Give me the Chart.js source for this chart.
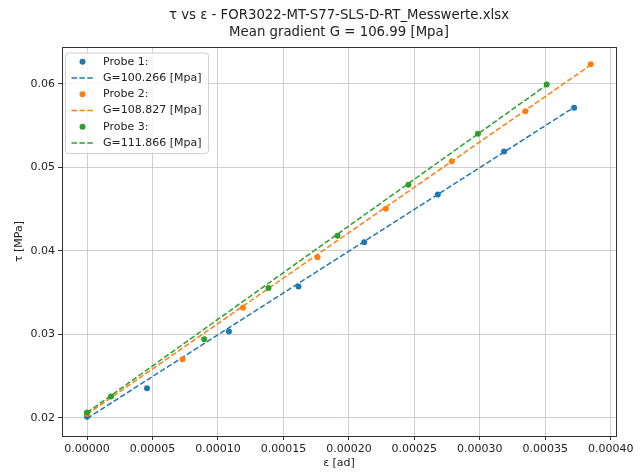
<!DOCTYPE html>
<html>
<head>
<meta charset="utf-8">
<script src="https://cdn.jsdelivr.net/npm/chart.js@4"></script>
<style>
  html, body { margin: 0; background: #fff; }
  #wrap { width: 644px; height: 476px; }
</style>
</head>
<body>
<div id="wrap"><canvas id="chart"></canvas></div>
<script>
"use strict";

// ── Data ─────────────────────────────────────────────────────────────────────
const probeNames   = ["Probe 1:", "Probe 2:", "Probe 3:"];
const gradients    = [100.266, 108.827, 111.866];   // fitted G [MPa]
const intercepts   = [0.0199, 0.0204, 0.0206];      // fitted tau at eps = 0
const meanGradient = 106.99;
const fileName     = "FOR3022-MT-S77-SLS-D-RT_Messwerte.xlsx";

const strain1 = [0, 0.0000458, 0.0001084, 0.0001615, 0.0002117, 0.0002679, 0.0003185, 0.000372];
const stress1 = [0.0201, 0.02353, 0.03032, 0.03573, 0.04101, 0.04673, 0.0519, 0.05714];
const strain2 = [0, 0.000073, 0.0001191, 0.000176, 0.0002282, 0.0002786, 0.0003348, 0.0003847];
const stress2 = [0.02045, 0.02701, 0.03317, 0.03921, 0.04502, 0.05073, 0.05673, 0.06234];
const strain3 = [0, 0.0000183, 0.0000895, 0.0001386, 0.0001913, 0.0002455, 0.0002985, 0.0003511];
const stress3 = [0.02062, 0.02254, 0.02941, 0.03553, 0.04181, 0.0479, 0.05402, 0.05994];

const xTicks = [0, 0.00005, 0.0001, 0.00015, 0.0002, 0.00025, 0.0003, 0.00035, 0.0004];
const yTicks = [0.02, 0.03, 0.04, 0.05, 0.06];

// ── Style ────────────────────────────────────────────────────────────────────
const COLORS = ["#1f77b4", "#ff7f0e", "#2ca02c"];
const FONT   = "'DejaVu Sans', sans-serif";
const TXT    = "#222";
const DASH   = [5.5, 2.4];

const strains  = [strain1, strain2, strain3];
const stresses = [stress1, stress2, stress3];

function pts(xs, ys) {
  return xs.map((x, i) => ({ x, y: ys[i] }));
}

function fitLine(i) {
  const xs = strains[i];
  const x0 = Math.min(...xs), x1 = Math.max(...xs);
  return [x0, x1].map(x => ({ x, y: intercepts[i] + gradients[i] * x }));
}

const datasets = [];
probeNames.forEach((name, i) => {
  datasets.push({
    label: name,
    data: pts(strains[i], stresses[i]),
    showLine: false,
    pointRadius: 3,
    pointBorderWidth: 0,
    pointBackgroundColor: COLORS[i],
    pointBorderColor: COLORS[i],
  });
  datasets.push({
    label: `G=${gradients[i].toFixed(3)} [Mpa]`,
    data: fitLine(i),
    showLine: true,
    pointRadius: 0,
    borderColor: COLORS[i],
    borderWidth: 1.5,
    borderDash: DASH,
  });
});
// later datasets on top, like matplotlib
datasets.forEach((d, i) => { d.order = datasets.length - i; });

// ── Title, frame and legend drawn on the canvas ──────────────────────────────
const decor = {
  id: "decor",
  afterDatasetsDraw(chart) {
    const { ctx, chartArea: a } = chart;
    ctx.save();
    // top / right spines
    ctx.strokeStyle = "#333";
    ctx.lineWidth = 1;
    ctx.strokeRect(a.left + 0.5, a.top + 0.5, a.right - a.left, a.bottom - a.top);

    // title
    const cx = (a.left + a.right) / 2;
    ctx.fillStyle = TXT;
    ctx.font = `13.3px ${FONT}`;
    ctx.textAlign = "center";
    ctx.textBaseline = "middle";
    ctx.fillText(`τ vs ε - ${fileName}`, cx, 16);
    ctx.fillText(`Mean gradient G = ${meanGradient.toFixed(2)} [Mpa]`, cx, 32.5);

    // legend
    const bx = 65, by = 52.5, bw = 143, bh = 100.5, r = 3;
    ctx.beginPath();
    ctx.roundRect(bx + 0.5, by + 0.5, bw, bh, r);
    ctx.fillStyle = "rgba(255,255,255,0.8)";
    ctx.fill();
    ctx.strokeStyle = "#d0d0d0";
    ctx.stroke();

    ctx.font = `11px ${FONT}`;
    ctx.textAlign = "left";
    const rowH = 16.25;
    let y = 61.7;
    probeNames.forEach((name, i) => {
      ctx.fillStyle = COLORS[i];
      ctx.beginPath();
      ctx.arc(82.5, y, 3, 0, Math.PI * 2);
      ctx.fill();
      ctx.fillStyle = TXT;
      ctx.fillText(name, 103, y);
      y += rowH;

      ctx.strokeStyle = COLORS[i];
      ctx.lineWidth = 1.5;
      ctx.setLineDash(DASH);
      ctx.beginPath();
      ctx.moveTo(71.5, y);
      ctx.lineTo(93.5, y);
      ctx.stroke();
      ctx.setLineDash([]);
      ctx.fillStyle = TXT;
      ctx.fillText(`G=${gradients[i].toFixed(3)} [Mpa]`, 103, y);
      y += rowH;
    });
    ctx.restore();
  },
};

const tickFont = { family: FONT, size: 11 };
const gridOpts = { color: "#cfcfcf", lineWidth: 1, tickColor: "#333", tickLength: 4 };

new Chart(document.getElementById("chart"), {
  type: "scatter",
  data: { datasets },
  options: {
    responsive: true,
    maintainAspectRatio: false,
    animation: false,
    layout: { padding: { top: 47, right: 28, left: 0, bottom: 0 } },
    plugins: {
      legend: { display: false },
      title: { display: false },
      tooltip: { enabled: false },
    },
    scales: {
      x: {
        type: "linear",
        min: -0.0000191,
        max: 0.000404,
        afterBuildTicks: s => { s.ticks = xTicks.map(v => ({ value: v })); },
        afterFit: s => { s.height = 40; },
        ticks: { font: tickFont, color: TXT, padding: 3, maxRotation: 0, autoSkip: false,
                 callback: v => Number(v).toFixed(5) },
        grid: gridOpts,
        border: { color: "#333", width: 1 },
        title: { display: true, text: "ε [ad]", font: tickFont, color: TXT,
                 padding: { top: 0, bottom: 6 } },
      },
      y: {
        type: "linear",
        min: 0.0178,
        max: 0.06442,
        afterBuildTicks: s => { s.ticks = yTicks.map(v => ({ value: v })); },
        afterFit: s => { s.width = 62; },
        ticks: { font: tickFont, color: TXT, padding: 3, autoSkip: false,
                 callback: v => Number(v).toFixed(2) },
        grid: gridOpts,
        border: { color: "#333", width: 1 },
        title: { display: true, text: "τ [MPa]", font: tickFont, color: TXT,
                 padding: { top: 13, bottom: 0 } },
      },
    },
  },
  plugins: [decor],
});
</script>
</body>
</html>
